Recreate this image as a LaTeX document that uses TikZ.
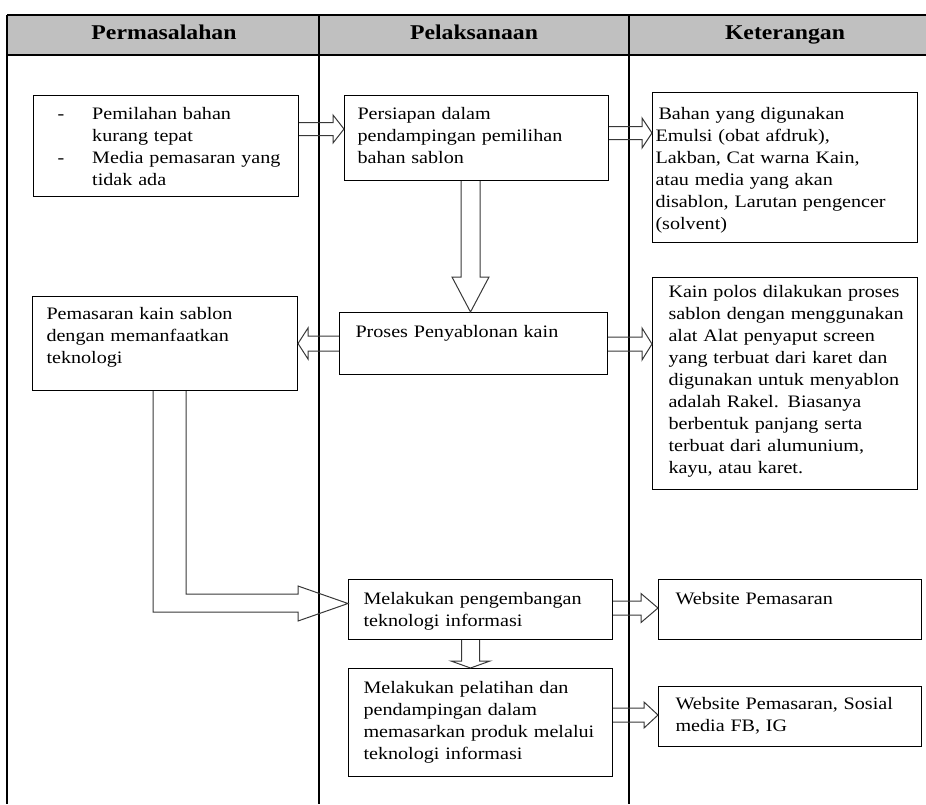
\documentclass[tikz,border=0pt]{standalone}
\usepackage{fontspec}
\usepackage{xcolor}
\newfontfamily\bodyfont{Liberation Serif}[FakeStretch=1.15]
\newfontfamily\headfont{Liberation Serif}[FakeStretch=1.13]
\definecolor{headgray}{RGB}{192,192,192}

\begin{document}
\begin{tikzpicture}[x=1pt, y=-1pt,
	box/.style={draw, line width=1pt, anchor=north west, inner ysep=0pt, align=left, font=\bodyfont\fontsize{17.5}{22}\selectfont},
	head/.style={anchor=base, font=\headfont\fontsize{21}{22}\selectfont\bfseries},
	blockarrow/.style={draw=black!78, line width=1pt, line join=miter}]
	\useasboundingbox (0,0) rectangle (926,804);

	% table
	\fill[headgray] (7,15) rectangle (926,55);
	\draw[line width=1.5pt] (7,15) -- (926,15) (7,55) -- (926,55);
	\draw[line width=1.1pt] (7,15) -- (7,804) (319,15) -- (319,804) (629,15) -- (629,804);
	\node[head] (hprob) at (164,39.5) {Permasalahan};
	\node[head] (hpel) at (474,39.5) {Pelaksanaan};
	\node[head] (hket) at (785,39.5) {Keterangan};

	% boxes
	\node[box, text width=217pt, inner xsep=24pt, text height=24pt, text depth=77pt] (prob) at (33,95)
		{\begin{tabular}[t]{@{}l@{\hspace{28pt}}l@{}}-&Pemilahan bahan\\ &kurang tepat\\ -&Media pemasaran yang\\ &tidak ada\end{tabular}};
	\node[box, text width=238pt, inner xsep=13pt, text height=24pt, text depth=61pt] (pers) at (344,95)
		{\begin{tabular}[t]{@{}l@{}}Persiapan dalam\\ pendampingan pemilihan\\ bahan sablon\end{tabular}};
	\node[box, text width=259pt, inner xsep=3pt, text height=27pt, text depth=123pt] (bahan) at (652,92)
		{\begin{tabular}[t]{@{}l@{}}\hspace{3pt}Bahan yang digunakan\\ Emulsi (obat afdruk),\\ Lakban, Cat warna Kain,\\ atau media yang akan\\ disablon, Larutan pengencer\\ (solvent)\end{tabular}};
	\node[box, text width=237pt, inner xsep=14pt, text height=23pt, text depth=71pt] (pk) at (32,296)
		{\begin{tabular}[t]{@{}l@{}}Pemasaran kain sablon\\ dengan memanfaatkan\\ teknologi\end{tabular}};
	\node[box, text width=236pt, inner xsep=16pt, text height=25pt, text depth=37pt] (proses) at (339,312)
		{Proses Penyablonan kain};
	\node[box, text width=233pt, inner xsep=16pt, text height=20pt, text depth=192pt] (kain) at (652,277)
		{\begin{tabular}[t]{@{}l@{}}Kain polos dilakukan proses\\ sablon dengan menggunakan\\ alat Alat penyaput screen\\ yang terbuat dari karet dan\\ digunakan untuk menyablon\\ adalah Rakel. Biasanya\\ berbentuk panjang serta\\ terbuat dari alumunium,\\ kayu, atau karet.\end{tabular}};
	\node[box, text width=234pt, inner xsep=15pt, text height=25pt, text depth=35pt] (peng) at (348,579)
		{\begin{tabular}[t]{@{}l@{}}Melakukan pengembangan\\ teknologi informasi\end{tabular}};
	\node[box, text width=229pt, inner xsep=17pt, text height=25pt, text depth=35pt] (web) at (658,579)
		{Website Pemasaran};
	\node[box, text width=234pt, inner xsep=15pt, text height=25pt, text depth=83pt] (pel) at (348,668)
		{\begin{tabular}[t]{@{}l@{}}Melakukan pelatihan dan\\ pendampingan dalam\\ memasarkan produk melalui\\ teknologi informasi\end{tabular}};
	\node[box, text width=229pt, inner xsep=17pt, text height=23pt, text depth=37pt] (sos) at (658,686)
		{\begin{tabular}[t]{@{}l@{}}Website Pemasaran, Sosial\\ media FB, IG\end{tabular}};

	% block arrows
	\draw[blockarrow] (prob.east |- 0,122.5) -- (333,122.5) -- (333,115) -- (pers.west |- 0,129)
		-- (333,143) -- (333,135.5) -- (prob.east |- 0,135.5);
	\draw[blockarrow] (pers.east |- 0,126.5) -- (642,126.5) -- (642,118) -- (bahan.west |- 0,133)
		-- (642,148) -- (642,139.5) -- (pers.east |- 0,139.5);
	\draw[blockarrow] (461,0 |- pers.south) -- (461,277) -- (452,277) -- (470.5,0 |- proses.north)
		-- (489,277) -- (480,277) -- (480,0 |- pers.south);
	\draw[blockarrow] (proses.west |- 0,336) -- (308,336) -- (308,328) -- (pk.east |- 0,343.5)
		-- (308,359) -- (308,351) -- (proses.west |- 0,351);
	\draw[blockarrow] (proses.east |- 0,337) -- (642,337) -- (642,328) -- (kain.west |- 0,344)
		-- (642,360) -- (642,351) -- (proses.east |- 0,351);
	\draw[blockarrow] (153,0 |- pk.south) -- (153,612) -- (298,612) -- (298,621) -- (peng.west |- 0,603.5)
		-- (298,586) -- (298,594) -- (186,594) -- (186,0 |- pk.south);
	\draw[blockarrow] (peng.east |- 0,601) -- (641,601) -- (641,593.5) -- (web.west |- 0,608)
		-- (641,622.5) -- (641,615) -- (peng.east |- 0,615);
	\draw[blockarrow] (461.5,0 |- peng.south) -- (461.5,661) -- (451,661) -- (470.5,0 |- pel.north)
		-- (490,661) -- (479.5,661) -- (479.5,0 |- peng.south);
	\draw[blockarrow] (pel.east |- 0,708) -- (644,708) -- (644,702) -- (sos.west |- 0,715)
		-- (644,728) -- (644,722) -- (pel.east |- 0,722);
\end{tikzpicture}
\end{document}
